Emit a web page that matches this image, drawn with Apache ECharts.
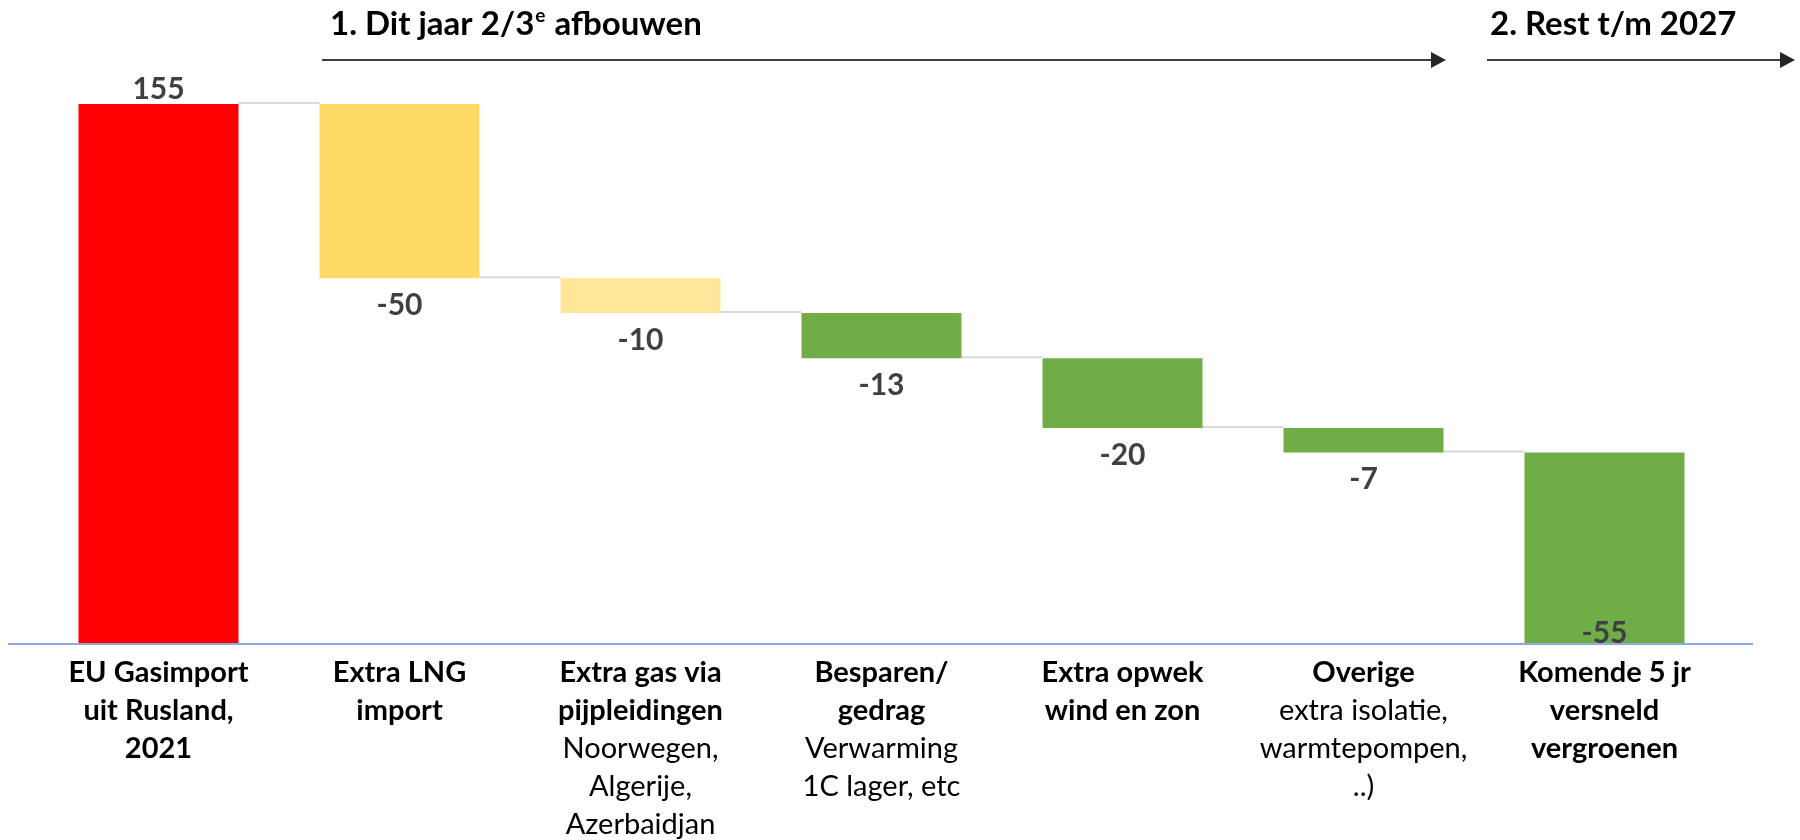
<!DOCTYPE html>
<html>
<head>
<meta charset="utf-8">
<script src="https://cdn.jsdelivr.net/npm/echarts@6/dist/echarts.min.js"></script>
<style>
html,body{margin:0;padding:0;background:#fff;}
#c{width:1800px;height:840px;}
</style>
</head>
<body>
<div id="c"></div>
<script>
// ---- data ----
const categoriesBold = [
  ['EU Gasimport', 'uit Rusland,', '2021'],
  ['Extra LNG', 'import'],
  ['Extra gas via', 'pijpleidingen'],
  ['Besparen/', 'gedrag'],
  ['Extra opwek', 'wind en zon'],
  ['Overige'],
  ['Komende 5 jr', 'versneld', 'vergroenen']
];
const categoriesNote = [
  [],
  [],
  ['Noorwegen,', 'Algerije,', 'Azerbaidjan'],
  ['Verwarming', '1C lager, etc'],
  [],
  ['extra isolatie,', 'warmtepompen,', '..)'],
  []
];
const deltas = [155, -50, -10, -13, -20, -7, -55];
const phaseTitles = ['1. Dit jaar 2/3', 'e', ' afbouwen', '2. Rest t/m 2027'];

// ---- styles ----
const barColors = ['#ff0000', '#ffd966', '#ffe699', '#70ad47', '#70ad47', '#70ad47', '#70ad47'];
const FONT = 'Lato';

// ---- derived waterfall ----
const bases = [], heights = [], levels = [];
let run = 0;
deltas.forEach((d, i) => {
  const end = run + d;
  bases.push(Math.min(run, end));
  heights.push(Math.abs(d));
  run = end;
  levels.push(run);
});
const connectorData = levels.slice(0, levels.length - 1).map((lv, i) => [i, lv]);
const catIdx = categoriesBold.map((_, i) => String(i));

const chart = echarts.init(document.getElementById('c'), null, {renderer: 'canvas'});

function labelPos(i) {
  if (i === 0) return {position: 'top', distance: 0};
  if (i === deltas.length - 1) return {position: 'insideBottom', distance: 0, offset: [0, 4]};
  return {position: 'bottom', distance: 12};
}

const option = {
  animation: false,
  backgroundColor: '#fff',
  grid: {left: 38, right: 75, top: 104, bottom: 196, containLabel: false},
  xAxis: {
    type: 'category',
    data: catIdx,
    axisLine: {show: false},
    axisTick: {show: false},
    axisLabel: {
      interval: 0,
      margin: 10,
      formatter: function (v, idx) {
        const i = Number(v);
        const parts = categoriesBold[i].map(s => '{b|' + s + '}')
          .concat(categoriesNote[i].map(s => '{n|' + s + '}'));
        return parts.join('\n');
      },
      rich: {
        b: {fontFamily: FONT, fontWeight: 'bold', fontSize: 29, lineHeight: 38, color: '#000'},
        n: {fontFamily: FONT, fontWeight: 'normal', fontSize: 29, lineHeight: 38, color: '#000'}
      }
    }
  },
  yAxis: {type: 'value', min: 0, max: 155, show: false, splitLine: {show: false}},
  series: [
    {
      type: 'bar', stack: 'w', barWidth: 160, silent: true,
      itemStyle: {color: 'transparent'},
      data: bases
    },
    {
      type: 'bar', stack: 'w', barWidth: 160,
      data: heights.map((h, i) => ({
        value: h,
        itemStyle: {color: barColors[i]},
        label: Object.assign({show: true}, labelPos(i))
      })),
      label: {
        show: true,
        fontFamily: FONT, fontWeight: 'bold', fontSize: 30, color: '#404040',
        formatter: p => String(deltas[p.dataIndex])
      }
    },
    {
      type: 'custom',
      silent: true,
      data: connectorData,
      renderItem: function (params, api) {
        const p = api.coord([api.value(0), api.value(1)]);
        const band = api.size([1, 0])[0];
        return {
          type: 'line',
          shape: {x1: p[0] + 80, y1: p[1] - 1, x2: p[0] + band - 80, y2: p[1] - 1},
          style: {stroke: '#d9d9d9', lineWidth: 2}
        };
      },
      z: 1
    }
  ]
};
chart.setOption(option);

const y0 = chart.convertToPixel({yAxisIndex: 0}, 0);
const titleRich = {
  a: {fontFamily: FONT, fontWeight: 'bold', fontSize: 33, color: '#404040', lineHeight: 40},
  s: {fontFamily: FONT, fontWeight: 'bold', fontSize: 19, color: '#404040', lineHeight: 40, padding: [0, 1, 16, 1]}
};
chart.setOption({
  graphic: [
    {type: 'line', shape: {x1: 8, y1: y0, x2: 1753, y2: y0}, style: {stroke: '#8eaadb', lineWidth: 2}, z: 10},
    {type: 'text', x: 330, y: 24, style: {
      text: '{a|' + phaseTitles[0] + '}{s|' + phaseTitles[1] + '}{a|' + phaseTitles[2] + '}',
      rich: titleRich, verticalAlign: 'middle', align: 'left'}},
    {type: 'text', x: 1490, y: 24, style: {
      text: '{a|' + phaseTitles[3] + '}', rich: titleRich, verticalAlign: 'middle', align: 'left'}},
    {type: 'line', shape: {x1: 322, y1: 60, x2: 1432, y2: 60}, style: {stroke: '#404040', lineWidth: 2}},
    {type: 'polygon', shape: {points: [[1431, 52], [1446, 60], [1431, 68]]}, style: {fill: '#262626'}},
    {type: 'line', shape: {x1: 1487, y1: 60, x2: 1781, y2: 60}, style: {stroke: '#404040', lineWidth: 2}},
    {type: 'polygon', shape: {points: [[1780, 52], [1795, 60], [1780, 68]]}, style: {fill: '#262626'}}
  ]
});
</script>
</body>
</html>
